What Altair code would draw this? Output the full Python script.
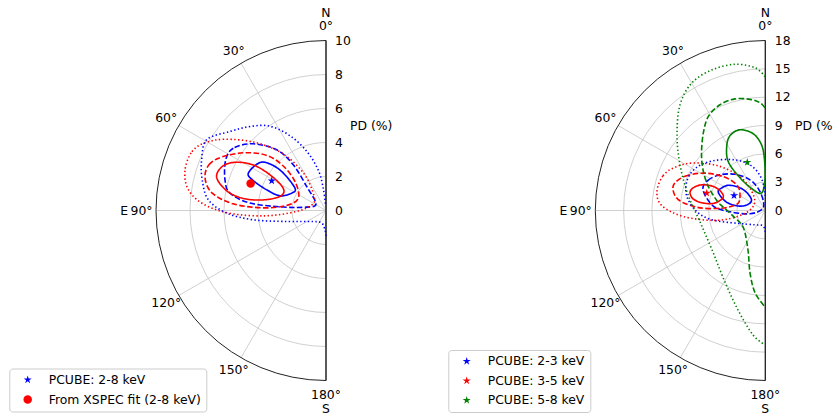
import math
import altair as alt
import pandas as pd

# ---------------- data ----------------
LEVELS = ["68%", "90%", "99%"]

ANGLE_VALUES = [0, 30, 60, 90, 120, 150, 180]
ANGLE_LABELS = ["0°", "30°", "60°", "90°", "120°", "150°", "180°"]
SPOKE_ANGLES = [30, 60, 90, 120, 150]
COMPASS_ANGLES = [0, 90, 180]
COMPASS_LABELS = ["N", "E", "S"]

LEFT_PD_TICKS = [0, 2, 4, 6, 8, 10]
RIGHT_PD_TICKS = [0, 3, 6, 9, 12, 15, 18]

# ---- left panel (2-8 keV) ----
LEFT_BANDS = ["PCUBE: 2-8 keV", "From XSPEC fit (2-8 keV)"]
LEFT_MARK_PA = [61.3, 70.3]
LEFT_MARK_PD = [3.64, 4.71]

L_BLUE_68_PA = [64.3, 54.0, 49.9, 48.8, 54.2, 63.1, 72.3, 70.8, 67.6]
L_BLUE_68_PD = [5.07, 4.80, 4.18, 3.34, 2.25, 2.26, 2.84, 3.69, 4.63]
L_BLUE_90_PA = [47.6, 56.1, 63.2, 73.1, 79.7, 84.4, 85.4, 80.0, 56.2, 38.8, 35.6, 39.1]
L_BLUE_90_PD = [5.82, 6.57, 6.61, 6.21, 5.74, 4.49, 2.52, 1.15, 0.71, 1.81, 3.31, 4.60]
L_BLUE_99_PA = [180.0, 177.0, 161.2, 130.9, 105.6, 97.3, 91.5, 84.8, 76.1, 67.8, 59.3,
                50.5, 42.1, 33.6, 25.3, 17.3, 10.3, 6.9, 5.0]
L_BLUE_99_PD = [1.49, 1.14, 0.78, 0.99, 2.40, 4.31, 5.84, 6.95, 7.50, 7.90, 8.16,
                7.31, 6.66, 5.95, 4.82, 3.55, 2.31, 1.23, 0.34]
L_RED_68_PA = [73.3, 67.2, 62.1, 58.0, 57.5, 62.2, 71.9, 80.0, 81.8, 79.2]
L_RED_68_PD = [6.71, 6.64, 6.06, 5.07, 3.91, 2.86, 2.78, 3.64, 4.81, 5.87]
L_RED_90_PA = [74.9, 68.7, 62.7, 54.5, 46.7, 43.8, 48.3, 67.3, 83.5, 87.6, 85.9, 81.2]
L_RED_90_PD = [7.37, 7.39, 6.88, 5.85, 4.69, 3.48, 2.36, 1.78, 2.43, 3.77, 5.48, 6.79]
L_RED_99_PA = [73.9, 66.3, 60.8, 54.8, 46.2, 37.2, 30.9, 39.2, 67.8, 92.4, 95.0, 91.7, 86.9, 81.1]
L_RED_99_PD = [8.63, 8.61, 8.16, 7.27, 5.79, 4.19, 2.52, 1.12, 0.89, 1.82, 3.60, 5.65, 7.25, 8.22]

# ---- right panel (energy bins) ----
RIGHT_BANDS = ["PCUBE: 2-3 keV", "PCUBE: 3-5 keV", "PCUBE: 5-8 keV"]
RIGHT_MARK_PA = [64.5, 73.5, 20.5]
RIGHT_MARK_PD = [3.67, 6.47, 5.45]

R_BLUE_68_PA = [68.8, 62.3, 55.2, 48.1, 46.0, 54.9, 74.9, 80.6, 77.5]
R_BLUE_68_PD = [5.34, 5.18, 4.68, 3.60, 2.55, 1.79, 2.12, 3.04, 4.26]
R_BLUE_90_PA = [71.6, 62.2, 51.8, 39.9, 26.5, 16.9, 11.7, 70.0, 102.2, 92.1, 84.9]
R_BLUE_90_PD = [6.95, 6.86, 6.11, 5.00, 3.63, 2.29, 0.94, 0.37, 1.66, 3.74, 5.56]
R_BLUE_99_PA = [180.0, 171.5, 144.2, 114.3, 99.9, 91.1, 80.1, 69.2, 58.4, 46.5, 30.9, 16.7, 6.1, 1.0]
R_BLUE_99_PD = [2.26, 1.64, 1.87, 3.29, 5.73, 7.23, 8.42, 8.87, 8.62, 7.64, 6.25, 4.89, 3.27, 1.56]
R_RED_68_PA = [76.4, 72.0, 67.9, 65.2, 67.1, 73.3, 82.0, 83.1, 80.8]
R_RED_68_PD = [8.20, 7.94, 7.23, 6.10, 5.09, 4.68, 5.48, 6.75, 7.75]
R_RED_90_PA = [75.0, 66.9, 58.2, 50.5, 48.4, 59.8, 77.6, 87.2, 87.3, 82.7]
R_RED_90_PD = [10.09, 9.24, 7.51, 5.53, 3.94, 3.10, 3.07, 4.80, 7.24, 9.32]
R_RED_99_PA = [80.2, 71.3, 64.4, 56.7, 46.6, 36.9, 35.4, 63.2, 100.5, 101.5, 94.4, 87.4]
R_RED_99_PD = [11.64, 11.44, 10.60, 9.16, 6.89, 4.46, 2.43, 1.34, 2.51, 5.22, 8.63, 10.95]
R_GREEN_68_PA = [17.4, 25.3, 31.1, 37.2, 37.7, 30.1, 11.5, 0.6, 0.9, 3.3, 8.9]
R_GREEN_68_PD = [8.96, 8.75, 7.91, 6.48, 4.38, 2.53, 1.91, 3.25, 5.37, 6.97, 8.22]
R_GREEN_90_PA = [0.2, 2.8, 7.8, 15.2, 23.2, 31.2, 38.7, 48.1, 56.8, 66.7, 78.6, 85.0,
                 103.5, 128.4, 156.2, 166.2, 172.9, 179.8]
R_GREEN_90_PD = [10.87, 11.42, 11.88, 12.25, 12.18, 11.64, 10.50, 9.07, 7.88, 6.61, 5.22, 4.50,
                 3.30, 2.95, 4.55, 6.79, 8.78, 10.20]
R_GREEN_99_PA = [0.1, 4.1, 11.7, 20.7, 29.9, 38.9, 49.4, 61.8, 78.5, 99.8, 126.4, 149.2,
                 164.6, 174.3, 179.9]
R_GREEN_99_PD = [14.16, 15.15, 15.81, 15.93, 15.59, 14.38, 12.31, 10.25, 8.35, 7.02, 7.01, 8.54,
                 10.91, 13.23, 14.22]

# ---------------- styles / layout ----------------
FONT = "DejaVu Sans"
FS = 12.4
TXT = "#000000"
GRID = "#c4c4c4"
SPINE = "#222222"
BLUE, RED, GREEN = "#0000ff", "#ff0000", "#008000"
STAR = ("M0,-1L0.2245,-0.309L0.951,-0.309L0.363,0.118L0.588,0.809L0,0.382"
        "L-0.588,0.809L-0.363,0.118L-0.951,-0.309L-0.2245,-0.309Z")
DASHES = [[1, 0], [5.5, 2.4], [1.4, 2.4]]
WIDTHS = [1.6, 1.6, 1.4]

HEIGHT = 415
ORIGIN_Y = 210.5
RADIUS_PX = 170.0
LABEL_PX = 184.5
COMPASS_PX = 198.0


def contour_frame(spec):
    rows = []
    for cid, (band, level, closed, pa, pdv) in enumerate(spec):
        for i, (a, r) in enumerate(zip(pa, pdv)):
            rows.append(dict(cid=cid, band=band, level=level, closed=closed, i=i, pa=a, pd=r))
    return pd.DataFrame(rows)


XY = dict(x="-datum.pd*sin(datum.pa*PI/180)", y="datum.pd*cos(datum.pa*PI/180)")


def build_panel(ticks, width, ox, bands, band_colors, spec, mlabels, mpa, mpd, mshapes,
                legend_x, legend_y, row_pad, tick_dx, pd_dx):
    rmax = ticks[-1]
    s = RADIUS_PX / rmax
    xs = alt.Scale(domain=[-ox / s, (width - ox) / s], nice=False, zero=False)
    ys = alt.Scale(domain=[-(HEIGHT - ORIGIN_Y) / s, ORIGIN_Y / s], nice=False, zero=False)
    X = alt.X("x:Q", scale=xs, axis=None)
    Y = alt.Y("y:Q", scale=ys, axis=None)
    X2 = alt.X2("x2:Q")
    Y2 = alt.Y2("y2:Q")
    rscale = alt.Scale(type="linear", domain=[0, rmax], range=[0, RADIUS_PX], zero=True, nice=False)
    txt = dict(font=FONT, fontSize=FS, color=TXT)

    grid = alt.Chart(pd.DataFrame({"r": ticks[1:-1]})).transform_calculate(x="0", y="0").mark_arc(
        filled=False, color=GRID, strokeWidth=0.8, theta=math.pi, theta2=2 * math.pi
    ).encode(x=X, y=Y, radius=alt.Radius("r:Q", scale=rscale, stack=None))

    spokes = alt.Chart(pd.DataFrame({"a": SPOKE_ANGLES})).transform_calculate(
        x="0", y="0", x2=f"-{rmax}*sin(datum.a*PI/180)", y2=f"{rmax}*cos(datum.a*PI/180)"
    ).mark_rule(color=GRID, strokeWidth=0.8).encode(x=X, y=Y, x2=X2, y2=Y2)

    outer = alt.Chart(pd.DataFrame({"r": [rmax]})).transform_calculate(x="0", y="0").mark_arc(
        filled=False, color=SPINE, strokeWidth=1, theta=math.pi, theta2=2 * math.pi
    ).encode(x=X, y=Y, radius=alt.Radius("r:Q", scale=rscale, stack=None))

    spine = alt.Chart(pd.DataFrame({"r": [rmax]})).transform_calculate(
        x="0", y="-datum.r", x2="0", y2="datum.r"
    ).mark_rule(color=SPINE, strokeWidth=1).encode(x=X, y=Y, x2=X2, y2=Y2)

    cdf = contour_frame(spec)
    # the contour colour scale lists the bands in reverse order so that its (hidden)
    # legend is not merged with the marker legend below
    stroke = alt.Stroke("band:N", scale=alt.Scale(domain=bands[::-1], range=band_colors[::-1]),
                        legend=None)
    dash = alt.StrokeDash("level:N", scale=alt.Scale(domain=LEVELS, range=DASHES), legend=None)
    sw = alt.StrokeWidth("level:N", scale=alt.Scale(domain=LEVELS, range=WIDTHS), legend=None)
    enc = dict(x=X, y=Y, order="i:Q", detail="cid:N", stroke=stroke, strokeDash=dash, strokeWidth=sw)
    closed = alt.Chart(cdf[cdf["closed"]]).transform_calculate(**XY).mark_line(
        interpolate="cardinal-closed").encode(**enc)
    opened = alt.Chart(cdf[~cdf["closed"]]).transform_calculate(**XY).mark_line(
        interpolate="cardinal").encode(**enc)

    mdf = pd.DataFrame({"label": mlabels, "pa": mpa, "pd": mpd})
    leg = alt.Legend(title=None, orient="none", legendX=legend_x, legendY=legend_y, rowPadding=row_pad)
    pts = alt.Chart(mdf).transform_calculate(**XY).mark_point(
        filled=True, size=72, opacity=1, strokeWidth=0
    ).encode(
        x=X, y=Y,
        fill=alt.Fill("label:N", scale=alt.Scale(domain=mlabels, range=band_colors), legend=leg),
        shape=alt.Shape("label:N", scale=alt.Scale(domain=mlabels, range=mshapes), legend=leg),
    )

    tick_text = alt.Chart(pd.DataFrame({"v": ticks})).transform_calculate(x="0", y="datum.v").mark_text(
        align="left", baseline="middle", dx=tick_dx, **txt).encode(x=X, y=Y, text="v:Q")

    r1 = rmax * LABEL_PX / RADIUS_PX
    ang = alt.Chart(pd.DataFrame({"a": ANGLE_VALUES, "t": ANGLE_LABELS})).transform_calculate(
        x=f"-{r1}*sin(datum.a*PI/180)", y=f"{r1}*cos(datum.a*PI/180)"
    ).mark_text(align="center", baseline="middle", **txt).encode(x=X, y=Y, text="t:N")

    r2 = rmax * COMPASS_PX / RADIUS_PX
    comp_df = pd.DataFrame({"a": COMPASS_ANGLES, "t": COMPASS_LABELS})
    comp_ns = alt.Chart(comp_df).transform_filter("datum.a != 90").transform_calculate(
        x=f"-{r2}*sin(datum.a*PI/180)", y=f"{r2}*cos(datum.a*PI/180)"
    ).mark_text(align="center", baseline="middle", **txt).encode(x=X, y=Y, text="t:N")
    comp_e = alt.Chart(comp_df).transform_filter("datum.a == 90").transform_calculate(
        x=f"-{r1}*sin(datum.a*PI/180)", y=f"{r1}*cos(datum.a*PI/180)"
    ).mark_text(align="right", baseline="middle", dx=-13.5, **txt).encode(x=X, y=Y, text="t:N")

    pdlab = alt.Chart(pd.DataFrame({"v": [rmax / 2]})).transform_calculate(x="0", y="datum.v").mark_text(
        text="PD (%)", align="left", baseline="middle", dx=pd_dx, clip=True, **txt
    ).encode(x=X, y=Y)

    return alt.layer(grid, spokes, outer, spine, closed, opened, pts, tick_text, ang,
                     comp_ns, comp_e, pdlab).properties(width=width, height=HEIGHT)


left_spec = [
    (LEFT_BANDS[0], "68%", True, L_BLUE_68_PA, L_BLUE_68_PD),
    (LEFT_BANDS[0], "90%", True, L_BLUE_90_PA, L_BLUE_90_PD),
    (LEFT_BANDS[0], "99%", False, L_BLUE_99_PA, L_BLUE_99_PD),
    (LEFT_BANDS[1], "68%", True, L_RED_68_PA, L_RED_68_PD),
    (LEFT_BANDS[1], "90%", True, L_RED_90_PA, L_RED_90_PD),
    (LEFT_BANDS[1], "99%", True, L_RED_99_PA, L_RED_99_PD),
]
right_spec = [
    (RIGHT_BANDS[0], "68%", True, R_BLUE_68_PA, R_BLUE_68_PD),
    (RIGHT_BANDS[0], "90%", True, R_BLUE_90_PA, R_BLUE_90_PD),
    (RIGHT_BANDS[0], "99%", False, R_BLUE_99_PA, R_BLUE_99_PD),
    (RIGHT_BANDS[1], "68%", True, R_RED_68_PA, R_RED_68_PD),
    (RIGHT_BANDS[1], "90%", True, R_RED_90_PA, R_RED_90_PD),
    (RIGHT_BANDS[1], "99%", True, R_RED_99_PA, R_RED_99_PD),
    (RIGHT_BANDS[2], "68%", True, R_GREEN_68_PA, R_GREEN_68_PD),
    (RIGHT_BANDS[2], "90%", False, R_GREEN_90_PA, R_GREEN_90_PD),
    (RIGHT_BANDS[2], "99%", False, R_GREEN_99_PA, R_GREEN_99_PD),
]

left = build_panel(LEFT_PD_TICKS, 420, 326.0, LEFT_BANDS, [BLUE, RED], left_spec,
                   LEFT_BANDS, LEFT_MARK_PA, LEFT_MARK_PD, [STAR, "circle"],
                   9.3, 368.5, 6.9, 9, 24)
right = build_panel(RIGHT_PD_TICKS, 413, 345.3, RIGHT_BANDS, [BLUE, RED, GREEN], right_spec,
                    RIGHT_BANDS, RIGHT_MARK_PA, RIGHT_MARK_PD, [STAR, STAR, STAR],
                    28.3, 350.0, 6.5, 9.5, 29.7)

chart = alt.hconcat(left, right, spacing=0, padding=0).resolve_scale(
    x="independent", y="independent", radius="independent", fill="independent",
    shape="independent", stroke="independent", strokeDash="independent", strokeWidth="independent"
).resolve_legend(fill="independent", shape="independent").configure_view(
    stroke=None
).configure_legend(
    padding=5, labelFont=FONT, labelFontSize=FS, labelColor=TXT,
    labelOffset=14.8, symbolOffset=7.2, symbolSize=72, symbolStrokeWidth=0,
    symbolOpacity=1, strokeColor="#cccccc", fillColor="white", cornerRadius=3, labelLimit=400
)

chart.save("out.html", embed_options={"renderer": "svg", "actions": False})
